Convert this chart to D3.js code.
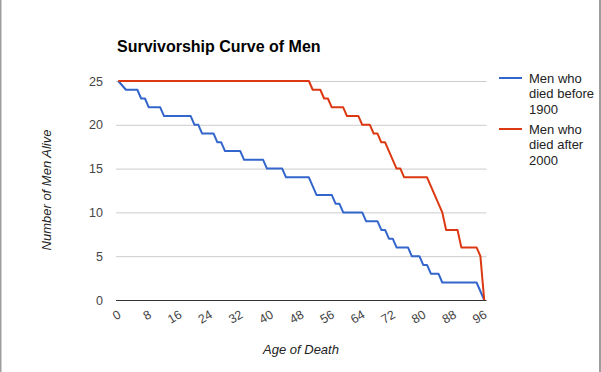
<!DOCTYPE html>
<html>
<head>
<meta charset="utf-8">
<script src="https://cdn.jsdelivr.net/npm/d3@7"></script>
<style>
  body { margin: 0; background: #fff; }
  svg { display: block; font-family: "Liberation Sans", Arial, sans-serif; }
</style>
</head>
<body>
<svg id="chart" width="601" height="372"></svg>
<script>
// corners of the two survivorship curves (age, men still alive)
const beforeAges  = [0, 2, 5, 6, 7, 8, 11, 12, 19, 20, 21, 22, 25, 26, 27, 28, 32, 33, 38, 39, 43, 44, 50, 52, 56, 57, 58, 59, 64, 65, 68, 69, 70, 71, 72, 73, 76, 77, 79, 80, 81, 82, 84, 85, 94, 96];
const beforeAlive = [25, 24, 24, 23, 23, 22, 22, 21, 21, 20, 20, 19, 19, 18, 18, 17, 17, 16, 16, 15, 15, 14, 14, 12, 12, 11, 11, 10, 10, 9, 9, 8, 8, 7, 7, 6, 6, 5, 5, 4, 4, 3, 3, 2, 2, 0];
const afterAges   = [0, 50, 51, 53, 54, 55, 56, 59, 60, 63, 64, 66, 67, 68, 69, 70, 73, 74, 75, 81, 85, 86, 89, 90, 94, 95, 96];
const afterAlive  = [25, 25, 24, 24, 23, 23, 22, 22, 21, 21, 20, 20, 19, 19, 18, 18, 15, 15, 14, 14, 10, 8, 8, 6, 6, 5, 0];

const seriesNames  = ["Men who died before 1900", "Men who died after 2000"];
const seriesColors = ["#3366cc", "#dc3912"];
const legendLines  = [["Men who", "died before", "1900"], ["Men who", "died after", "2000"]];

const xTicks = [0, 8, 16, 24, 32, 40, 48, 56, 64, 72, 80, 88, 96];
const yTicks = [0, 5, 10, 15, 20, 25];

const series = [
  beforeAges.map((a, i) => ({age: a, alive: beforeAlive[i]})),
  afterAges.map((a, i) => ({age: a, alive: afterAlive[i]}))
];

const svg = d3.select('#chart');

// frame edges
svg.append('line').attr('x1', 0.5).attr('x2', 0.5).attr('y1', 0).attr('y2', 372)
   .attr('stroke', '#9e9e9e').attr('stroke-width', 2);
svg.append('line').attr('x1', 600).attr('x2', 600).attr('y1', 0).attr('y2', 372)
   .attr('stroke', '#9e9e9e').attr('stroke-width', 2);

/*********** Scales *******************/
const x = d3.scaleLinear().domain([-0.6, 96.6]).range([116, 486.5]);
const y = d3.scaleLinear().domain([0, 25]).range([300, 81]);

/*********** Grid + Y axis *******************/
const yAxis = svg.append('g')
   .attr('transform', 'translate(116,0)')
   .call(d3.axisLeft(y).tickValues(yTicks).tickSize(-370.5).tickPadding(13).tickFormat(d3.format('d')));
yAxis.select('.domain').remove();
yAxis.selectAll('line').attr('stroke', '#cccccc');
yAxis.selectAll('text').attr('fill', '#444').style('font-size', '12.5px');

/*********** X axis *******************/
const xAxis = svg.append('g')
   .attr('transform', 'translate(0,300)')
   .call(d3.axisBottom(x).tickValues(xTicks).tickSize(0).tickFormat(d3.format('d')));
xAxis.select('.domain').remove();
xAxis.selectAll('text')
   .attr('fill', '#444')
   .style('font-size', '12.5px')
   .attr('text-anchor', 'end')
   .attr('dy', 0)
   .attr('y', 0)
   .attr('transform', 'translate(3,17) rotate(-30)');

svg.append('line')
   .attr('x1', 116).attr('x2', 486.5)
   .attr('y1', 300.5).attr('y2', 300.5)
   .attr('stroke', '#333').attr('stroke-width', 1);

/*********** Lines *******************/
const line = d3.line()
   .x(d => x(d.age))
   .y(d => y(d.alive));

series.forEach((s, i) => {
  svg.append('path')
     .datum(s)
     .attr('d', line)
     .attr('fill', 'none')
     .attr('stroke', seriesColors[i])
     .attr('stroke-width', 2)
     .attr('stroke-linejoin', 'round')
     .append('title').text(seriesNames[i]);
});

/*********** Legend *******************/
const legendTop = [78, 129];
legendLines.forEach((lines, i) => {
  svg.append('line')
     .attr('x1', 499).attr('x2', 522)
     .attr('y1', legendTop[i]).attr('y2', legendTop[i])
     .attr('stroke', seriesColors[i]).attr('stroke-width', 2);
  const t = svg.append('text')
     .attr('x', 529).attr('y', legendTop[i] + 4.5)
     .attr('fill', '#222').style('font-size', '13px');
  lines.forEach((l, j) => {
    t.append('tspan').attr('x', 529).attr('dy', j === 0 ? 0 : 15.5).text(l);
  });
});

/*********** Title and labels *******************/
svg.append('text')
   .attr('x', 117).attr('y', 52)
   .attr('fill', '#000')
   .style('font-size', '16px').style('font-weight', 'bold')
   .text('Survivorship Curve of Men');

svg.append('text')
   .attr('transform', 'translate(51,190) rotate(-90)')
   .attr('text-anchor', 'middle')
   .attr('fill', '#222')
   .style('font-size', '13px').style('font-style', 'italic')
   .text('Number of Men Alive');

svg.append('text')
   .attr('x', 301).attr('y', 354)
   .attr('text-anchor', 'middle')
   .attr('fill', '#222')
   .style('font-size', '13px').style('font-style', 'italic')
   .text('Age of Death');
</script>
</body>
</html>
